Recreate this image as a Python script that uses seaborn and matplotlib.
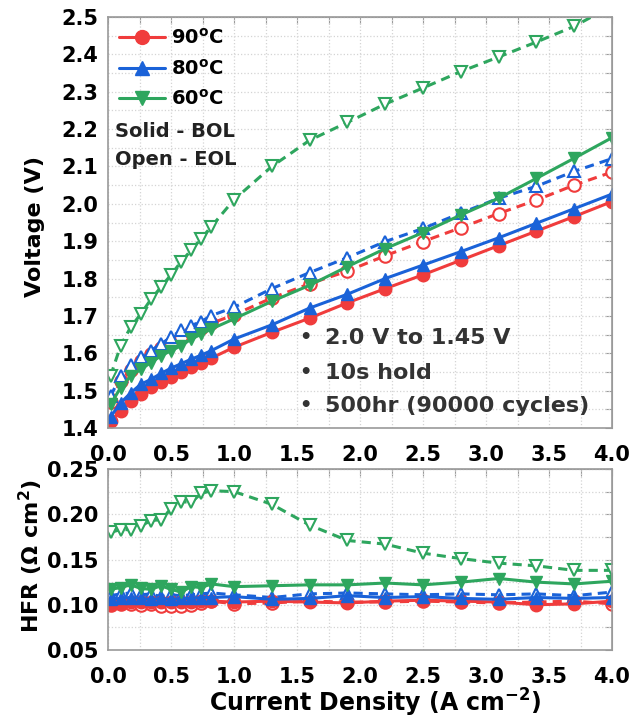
import matplotlib
matplotlib.use("Agg")
import numpy as np
import pandas as pd
import seaborn as sns
import matplotlib.pyplot as plt
from matplotlib.ticker import MultipleLocator, FormatStrFormatter, NullFormatter
from matplotlib.lines import Line2D

# ---------------- data ----------------
current = [0.02, 0.1, 0.18, 0.26, 0.34, 0.42, 0.5, 0.58, 0.66, 0.74, 0.82,
           1.0, 1.3, 1.6, 1.9, 2.2, 2.5, 2.8, 3.1, 3.4, 3.7, 4.0]

v90_bol = [1.420, 1.445, 1.472, 1.492, 1.510, 1.524, 1.537, 1.551, 1.562, 1.575, 1.587,
           1.616, 1.656, 1.694, 1.735, 1.773, 1.810, 1.849, 1.888, 1.927, 1.966, 2.006]
v80_bol = [1.430, 1.467, 1.494, 1.517, 1.530, 1.546, 1.560, 1.572, 1.584, 1.595, 1.607,
           1.638, 1.676, 1.721, 1.758, 1.800, 1.836, 1.872, 1.909, 1.948, 1.987, 2.026]
v60_bol = [1.463, 1.508, 1.539, 1.557, 1.575, 1.593, 1.607, 1.620, 1.638, 1.651, 1.665,
           1.692, 1.739, 1.782, 1.832, 1.880, 1.923, 1.970, 2.015, 2.068, 2.122, 2.177]
v90_eol = [1.470, 1.525, 1.555, 1.578, 1.597, 1.613, 1.628, 1.643, 1.657, 1.668, 1.680,
           1.703, 1.748, 1.786, 1.820, 1.861, 1.899, 1.936, 1.974, 2.010, 2.050, 2.085]
v80_eol = [1.485, 1.539, 1.568, 1.589, 1.607, 1.625, 1.643, 1.661, 1.674, 1.685, 1.701,
           1.723, 1.773, 1.816, 1.856, 1.899, 1.934, 1.975, 2.015, 2.047, 2.087, 2.121]
v60_eol = [1.539, 1.620, 1.670, 1.705, 1.744, 1.777, 1.810, 1.845, 1.876, 1.907, 1.939,
           2.011, 2.100, 2.170, 2.218, 2.267, 2.310, 2.354, 2.393, 2.433, 2.475, 2.530]

h90_bol = [0.101, 0.102, 0.103, 0.103, 0.103, 0.103, 0.103, 0.103, 0.103, 0.104, 0.104,
           0.103, 0.104, 0.103, 0.102, 0.104, 0.105, 0.104, 0.103, 0.100, 0.101, 0.104]
h80_bol = [0.106, 0.107, 0.108, 0.107, 0.106, 0.107, 0.106, 0.107, 0.107, 0.108, 0.108,
           0.109, 0.106, 0.107, 0.110, 0.108, 0.109, 0.107, 0.106, 0.108, 0.107, 0.108]
h60_bol = [0.117, 0.119, 0.122, 0.118, 0.117, 0.121, 0.117, 0.114, 0.120, 0.119, 0.123,
           0.120, 0.121, 0.122, 0.122, 0.124, 0.122, 0.125, 0.129, 0.125, 0.123, 0.126]
h90_eol = [0.100, 0.101, 0.101, 0.100, 0.101, 0.099, 0.099, 0.099, 0.100, 0.102, 0.104,
           0.101, 0.102, 0.104, 0.103, 0.103, 0.104, 0.103, 0.102, 0.103, 0.104, 0.101]
h80_eol = [0.110, 0.112, 0.113, 0.111, 0.112, 0.109, 0.111, 0.110, 0.111, 0.112, 0.113,
           0.111, 0.108, 0.112, 0.113, 0.112, 0.111, 0.112, 0.111, 0.112, 0.110, 0.114]
h60_eol = [0.180, 0.183, 0.183, 0.187, 0.193, 0.194, 0.206, 0.214, 0.213, 0.223, 0.226,
           0.225, 0.211, 0.188, 0.171, 0.167, 0.157, 0.151, 0.146, 0.143, 0.138, 0.138]

temps = ["90$^{o}$C", "80$^{o}$C", "60$^{o}$C"]
notes = ["2.0 V to 1.45 V", "10s hold", "500hr (90000 cycles)"]

# ---------------- style ----------------
sns.set_style("white")
plt.rcParams["font.family"] = ["DejaVu Sans"]
plt.rcParams["font.weight"] = "bold"
plt.rcParams["axes.labelweight"] = "bold"
plt.rcParams["mathtext.default"] = "regular"
plt.rcParams["text.color"] = "black"
plt.rcParams["axes.labelcolor"] = "black"

RED, BLUE, GREEN = "#f03c3c", "#1a62d8", "#2ea65e"
SPINE = "#9a9a9a"
colors = [RED, BLUE, GREEN]
markers = ["o", "^", "v"]

fig = plt.figure(figsize=(6.3, 7.2), dpi=100)
ax1 = fig.add_axes([108 / 630, 1 - 428 / 720, 504 / 630, 411 / 720])
ax2 = fig.add_axes([108 / 630, 1 - 650 / 720, 504 / 630, 181 / 720])


def draw(ax, yvals, color, marker, bol):
    df = pd.DataFrame({"x": current, "y": yvals})
    kw = dict(color=color, marker=marker, markersize=9, linewidth=2.2)
    if bol:
        kw.update(linestyle="-", markerfacecolor=color, markeredgecolor=color,
                  markeredgewidth=1.0)
    else:
        kw.update(linestyle=(0, (3, 2)), markerfacecolor="white",
                  markeredgecolor=color, markeredgewidth=1.5)
    sns.lineplot(data=df, x="x", y="y", ax=ax, estimator=None, sort=False, **kw)


eol_v = [v90_eol, v80_eol, v60_eol]
bol_v = [v90_bol, v80_bol, v60_bol]
eol_h = [h90_eol, h80_eol, h60_eol]
bol_h = [h90_bol, h80_bol, h60_bol]
for i in range(3):
    draw(ax1, eol_v[i], colors[i], markers[i], False)
    draw(ax2, eol_h[i], colors[i], markers[i], False)
for i in range(3):
    draw(ax1, bol_v[i], colors[i], markers[i], True)
    draw(ax2, bol_h[i], colors[i], markers[i], True)


def style(ax, ymaj, ymin, yfmt):
    ax.set_xlim(0, 4.0)
    ax.xaxis.set_major_locator(MultipleLocator(0.5))
    ax.xaxis.set_minor_locator(MultipleLocator(0.25))
    ax.xaxis.set_major_formatter(FormatStrFormatter("%.1f"))
    ax.yaxis.set_major_locator(MultipleLocator(ymaj))
    ax.yaxis.set_minor_locator(MultipleLocator(ymin))
    ax.yaxis.set_major_formatter(FormatStrFormatter(yfmt))
    ax.grid(True, which="both", color="#d4d4d4", linestyle=":", linewidth=0.9)
    ax.set_axisbelow(True)
    for s in ax.spines.values():
        s.set_color(SPINE)
        s.set_linewidth(1.2)
    ax.tick_params(which="both", direction="out", color=SPINE, labelsize=15,
                   labelcolor="black", width=1.0)
    ax.tick_params(which="major", length=5, pad=2)
    ax.tick_params(axis="x", which="major", pad=7)
    ax.tick_params(which="minor", length=3)
    for lab in ax.get_xticklabels() + ax.get_yticklabels():
        lab.set_fontweight("bold")
    sx = ax.secondary_xaxis("top")
    sx.xaxis.set_major_locator(MultipleLocator(0.25))
    sx.xaxis.set_major_formatter(NullFormatter())
    sx.tick_params(direction="in", length=5, color=SPINE)
    sx.spines["top"].set_color(SPINE)
    sy = ax.secondary_yaxis("right")
    sy.yaxis.set_major_locator(MultipleLocator(ymin))
    sy.yaxis.set_major_formatter(NullFormatter())
    sy.tick_params(direction="in", length=5, color=SPINE)
    sy.spines["right"].set_color(SPINE)


ax1.set_ylim(1.4, 2.5)
ax2.set_ylim(0.05, 0.25)
style(ax1, 0.1, 0.05, "%.1f")
style(ax2, 0.05, 0.025, "%.2f")

ax1.set_xlabel("")
ax1.set_ylabel("Voltage (V)", fontsize=16, fontweight="bold")
ax2.set_ylabel("HFR (Ω cm$^{2}$)", fontsize=16, fontweight="bold")
ax2.set_xlabel("Current Density (A cm$^{-2}$)", fontsize=17, fontweight="bold")
ax1.yaxis.set_label_coords(-0.125, 0.49)
ax2.yaxis.set_label_coords(-0.125, 0.52)
ax2.xaxis.set_label_coords(0.53, -0.205)

handles = [Line2D([], [], color=c, marker=m, markersize=10, linewidth=2.2,
                  markerfacecolor=c, markeredgecolor=c) for c, m in zip(colors, markers)]
ax1.legend(handles, temps, loc="upper left", frameon=False, fontsize=14,
           handlelength=2.4, handletextpad=0.3, labelspacing=0.55,
           borderaxespad=0.2, borderpad=0.35)
ax1.text(0.014, 0.722, "Solid - BOL", transform=ax1.transAxes, fontsize=14,
         fontweight="bold", va="center", ha="left", color="#222222")
ax1.text(0.014, 0.654, "Open - EOL", transform=ax1.transAxes, fontsize=14,
         fontweight="bold", va="center", ha="left", color="#222222")

note_y = [1.641, 1.548, 1.459]
for ny, txt in zip(note_y, notes):
    ax1.text(1.52, ny, "•", fontsize=14, fontweight="bold", va="center",
             ha="left", color="#333333")
    ax1.text(1.72, ny, txt, fontsize=16, fontweight="bold", va="center",
             ha="left", color="#333333")

fig.savefig("out.png", dpi=100)
